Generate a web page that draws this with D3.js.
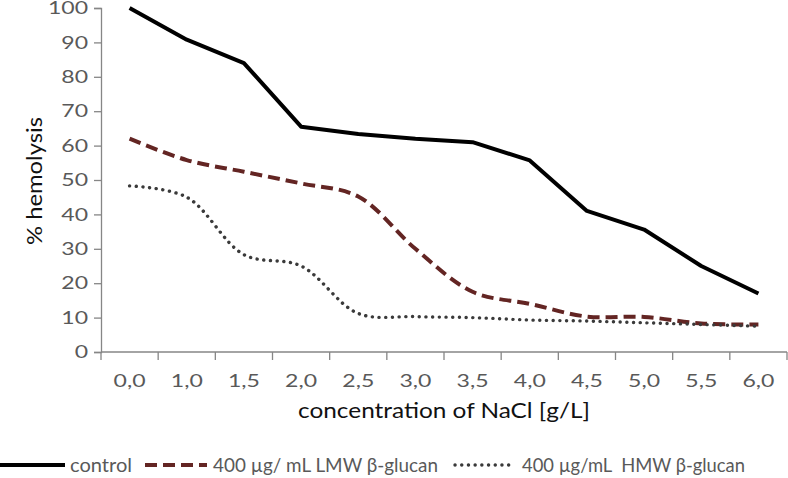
<!DOCTYPE html>
<html><head><meta charset="utf-8">
<script src="https://cdn.jsdelivr.net/npm/d3@7"></script>
<style>body{margin:0;background:#fff}svg{display:block}text{font-family:Lato,"Open Sans",sans-serif}</style>
</head><body><svg id="c" width="788" height="478"></svg>
<script>
const categories = ["0,0","1,0","1,5","2,0","2,5","3,0","3,5","4,0","4,5","5,0","5,5","6,0"];
const control = [100,90.8,84,65.5,63.4,62,61,55.7,41,35.6,25,17];
const lmw = [62,55.8,52.4,49,45.2,30,17.5,14,10.3,10.2,8.3,8];
const hmw = [48.3,45,28.3,25,11.2,10.3,10,9.3,9,8.5,8,7.5];
const yTicks = [0,10,20,30,40,50,60,70,80,90,100];
const seriesNames = ["control","400 µg/ mL LMW β-glucan","400 µg/mL  HMW β-glucan"];

const svg = d3.select("#c");
const x = d3.scaleBand().domain(categories).range([101,787]);
const y = d3.scaleLinear().domain([0,100]).range([352,8]);
const axisColor = "#868686", tickText = "#595959";
const stretch = function(){ const n=this.getComputedTextLength(); d3.select(this).attr("textLength",n*1.28).attr("lengthAdjust","spacingAndGlyphs"); };

// y axis
const ya = svg.append("g").attr("transform","translate(101,0)")
  .call(d3.axisLeft(y).tickValues(yTicks).tickSize(7).tickPadding(6));
ya.select(".domain").attr("stroke",axisColor).attr("stroke-width",1.3);
ya.selectAll(".tick line").attr("stroke",axisColor).attr("stroke-width",1.3);
ya.selectAll(".tick text").attr("fill",tickText).attr("font-size",18).attr("font-family","Lato,sans-serif").each(stretch);

// x axis
const xa = svg.append("g").attr("transform","translate(0,352)")
  .call(d3.axisBottom(x).tickSize(0).tickPadding(22));
xa.select(".domain").remove();
xa.selectAll(".tick text").attr("fill",tickText).attr("font-size",18).attr("font-family","Lato,sans-serif").each(stretch);
xa.append("line").attr("x1",101).attr("x2",787).attr("stroke",axisColor).attr("stroke-width",1.3);
const bounds = categories.map(c=>x(c)).concat([x(categories[categories.length-1])+x.bandwidth()]);
xa.selectAll("line.b").data(bounds).enter().append("line").attr("class","b")
  .attr("x1",d=>d).attr("x2",d=>d).attr("y1",0).attr("y2",8)
  .attr("stroke",axisColor).attr("stroke-width",1.3);

// titles
svg.append("text").attr("x",298).attr("y",418)
  .attr("textLength",292).attr("lengthAdjust","spacingAndGlyphs")
  .style("font-size","22px").attr("fill","#111").text("concentration of NaCl [g/L]");
svg.append("text").attr("transform","translate(42,245) rotate(-90)")
  .attr("textLength",128).attr("lengthAdjust","spacingAndGlyphs")
  .style("font-size","22px").attr("fill","#111").text("% hemolysis");

const cx = c => x(c) + x.bandwidth()/2;
const styles = [
  {data:control, color:"#000", w:4, dash:null, cap:"butt", curve:d3.curveLinear},
  {data:lmw, color:"#632523", w:4, dash:"12,6", cap:"butt", curve:d3.curveCatmullRom.alpha(0.5)},
  {data:hmw, color:"#3a3a3a", w:3.4, dash:"0.1,6.6", cap:"round", curve:d3.curveCatmullRom.alpha(0.5)}
];
styles.forEach(s=>{
  const line = d3.line().x((d,i)=>cx(categories[i])).y(d=>y(d)).curve(s.curve);
  svg.append("path").datum(s.data).attr("d",line).attr("fill","none")
    .attr("stroke",s.color).attr("stroke-width",s.w).attr("stroke-dasharray",s.dash)
    .attr("stroke-linecap",s.cap).attr("stroke-linejoin","round");
});

// legend
const leg = [
  {x1:0,x2:65,tx:70,tl:62},
  {x1:145,x2:207,tx:213,tl:225},
  {x1:455,x2:509,tx:522,tl:223}
];
leg.forEach((l,i)=>{
  const s = styles[i];
  svg.append("line").attr("x1",l.x1).attr("x2",l.x2).attr("y1",465).attr("y2",465)
    .attr("stroke",s.color).attr("stroke-width",s.w).attr("stroke-dasharray",s.dash).attr("stroke-linecap",s.cap);
  svg.append("text").attr("x",l.tx).attr("y",472).attr("xml:space","preserve")
    .attr("textLength",l.tl).attr("lengthAdjust","spacingAndGlyphs")
    .style("font-size","19px").attr("fill",tickText).text(seriesNames[i]);
});
</script></body></html>
